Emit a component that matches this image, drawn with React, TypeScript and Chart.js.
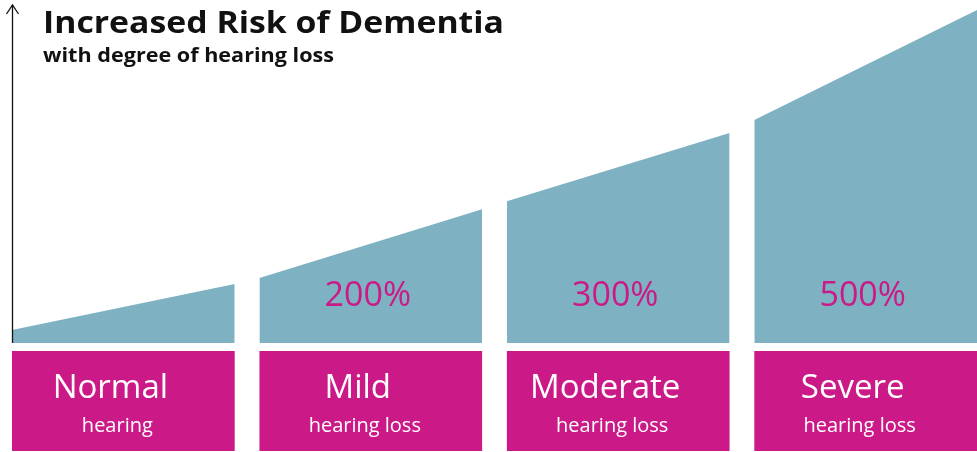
import React, { useEffect, useRef } from "react";
import { Chart, registerables } from "chart.js";

Chart.register(...registerables);

const categories = ["Normal", "Mild", "Moderate", "Severe"];
const subLabels = ["hearing", "hearing loss", "hearing loss", "hearing loss"];
const pctLabels = ["", "200%", "300%", "500%"];
// relative risk index at the start and end of each band (0–100 scale)
const riskStart = [3.9, 19.5, 42.6, 67.0];
const riskEnd = [17.7, 40.2, 63.1, 100];
const bandWidth = 0.9;

const title = "Increased Risk of Dementia";
const subtitle = "with degree of hearing loss";

const TEAL = "#7eb1c1";
const MAGENTA = "#cb1a88";
const FONT = "'Open Sans', 'DejaVu Sans', sans-serif";

function fillFit(ctx: any, text: string, x: number, y: number, width: number) {
  const w = ctx.measureText(text).width;
  ctx.save();
  ctx.translate(x, y);
  ctx.scale(width / w, 1);
  ctx.fillText(text, 0, 0);
  ctx.restore();
}

const decorPlugin = {
  id: "decor",
  afterDraw(chart: any) {
    const { ctx, chartArea, scales } = chart;
    const x = scales.x;
    const y = scales.y;
    const H = chart.height;
    ctx.save();

    // percent labels inside bands
    ctx.fillStyle = MAGENTA;
    ctx.textAlign = "center";
    ctx.textBaseline = "alphabetic";
    ctx.font = `400 34px ${FONT}`;
    categories.forEach((_, i) => {
      if (!pctLabels[i]) return;
      const cx = (x.getPixelForValue(i) + x.getPixelForValue(i + bandWidth)) / 2 - 3;
      ctx.fillText(pctLabels[i], cx, 306);
    });

    // category boxes
    categories.forEach((c, i) => {
      const x0 = x.getPixelForValue(i);
      const x1 = x.getPixelForValue(i + bandWidth);
      const top = chartArea.bottom + 8;
      ctx.fillStyle = MAGENTA;
      ctx.fillRect(x0, top, x1 - x0, H - 1 - top);
      const cx = (x0 + x1) / 2;
      ctx.fillStyle = "#ffffff";
      ctx.font = `400 33px ${FONT}`;
      ctx.fillText(c, cx - 13, 398);
      ctx.font = `400 20px ${FONT}`;
      ctx.fillText(subLabels[i], cx - 6, 432);
    });

    // vertical axis arrow
    const ax = chartArea.left + 0.5;
    ctx.strokeStyle = "#111111";
    ctx.lineWidth = 1.3;
    ctx.beginPath();
    ctx.moveTo(ax, y.getPixelForValue(0));
    ctx.lineTo(ax, 5);
    ctx.stroke();
    ctx.beginPath();
    ctx.moveTo(ax - 6, 14);
    ctx.lineTo(ax, 5);
    ctx.lineTo(ax + 6, 14);
    ctx.stroke();

    // titles
    ctx.textAlign = "left";
    ctx.fillStyle = "#111111";
    ctx.font = `700 31px ${FONT}`;
    fillFit(ctx, title, 43, 33, 461);
    ctx.font = `700 20px ${FONT}`;
    fillFit(ctx, subtitle, 43, 62, 291);
    ctx.restore();
  },
};

export default function App() {
  const ref = useRef<HTMLCanvasElement | null>(null);
  useEffect(() => {
    document.body.style.margin = "0";
    const datasets = categories.map((c, i) => ({
      label: c,
      data: [
        { x: i, y: riskStart[i] },
        { x: i + bandWidth, y: riskEnd[i] },
      ],
      fill: "origin",
      backgroundColor: TEAL,
      borderWidth: 0,
      borderColor: TEAL,
      pointRadius: 0,
      tension: 0,
    }));
    const chart = new Chart(ref.current as HTMLCanvasElement, {
      type: "line",
      data: { datasets },
      options: {
        animation: false,
        responsive: true,
        maintainAspectRatio: false,
        layout: { padding: { left: 12, right: 0, top: 10, bottom: 109 } },
        plugins: { legend: { display: false }, tooltip: { enabled: false } },
        scales: {
          x: { type: "linear", min: 0, max: categories.length - 1 + bandWidth, display: false },
          y: { min: 0, max: 100, display: false },
        },
      },
      plugins: [decorPlugin],
    });
    return () => chart.destroy();
  }, []);
  return (
    <div style={{ position: "fixed", left: 0, top: 0, width: 977, height: 452, background: "#fff" }}>
      <canvas ref={ref} />
    </div>
  );
}
